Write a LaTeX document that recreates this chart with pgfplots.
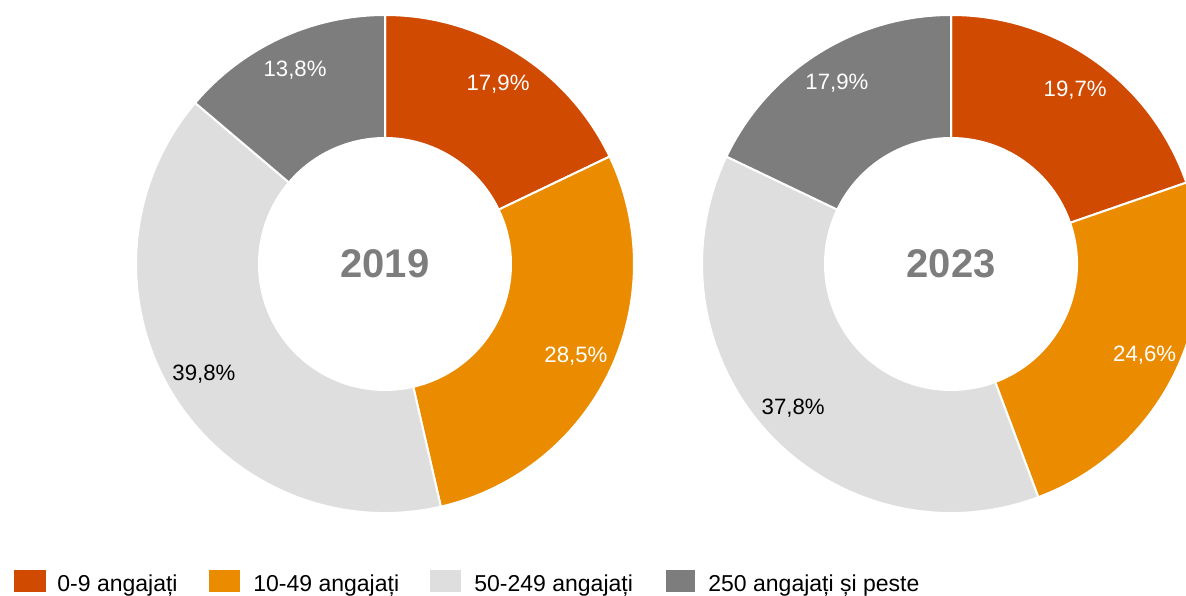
\documentclass[border=0pt]{standalone}
\usepackage{pgfplots}
\pgfplotsset{compat=1.18}
\usepackage{pgfplotstable}
\usepackage{fontspec}
\setmainfont{Liberation Sans}
\definecolor{cA}{HTML}{D04A02}
\definecolor{cB}{HTML}{EB8C00}
\definecolor{cC}{HTML}{DEDEDE}
\definecolor{cD}{HTML}{7D7D7D}
\pgfplotstableread{
cat y2019 y2023
A 17.9 19.7
B 28.5 24.6
C 39.8 37.8
D 13.8 17.9
}\donutdata
\newcommand\getv[3]{\pgfplotstablegetelem{#1}{#2}\of\donutdata\edef#3{\pgfplotsretval}}
% cx, cy, start, end, colour
\newcommand\donutwedge[5]{%
  \fill[#5, draw=white, line width=1pt]
    (axis cs:{#1+249*cos(#3)},{#2+249*sin(#3)})
    arc[start angle=#3, end angle=#4, radius=124.5pt]
    -- (axis cs:{#1+126*cos(#4)},{#2+126*sin(#4)})
    arc[start angle=#4, end angle=#3, radius=63pt] -- cycle;}
\newcommand\pct[1]{\pgfmathprintnumber[use comma,fixed,fixed zerofill,precision=1,assume math mode=true]{#1}\%}
\begin{document}
\begin{tikzpicture}
\getv{0}{y2019}\La \getv{1}{y2019}\Lb \getv{2}{y2019}\Lc \getv{3}{y2019}\Ld
\getv{0}{y2023}\Ra \getv{1}{y2023}\Rb \getv{2}{y2023}\Rc \getv{3}{y2023}\Rd
\pgfmathsetmacro\LeA{90-3.6*\La}\pgfmathsetmacro\LeB{\LeA-3.6*\Lb}\pgfmathsetmacro\LeC{\LeB-3.6*\Lc}\pgfmathsetmacro\LeD{\LeC-3.6*\Ld}
\pgfmathsetmacro\ReA{90-3.6*\Ra}\pgfmathsetmacro\ReB{\ReA-3.6*\Rb}\pgfmathsetmacro\ReC{\ReB-3.6*\Rc}\pgfmathsetmacro\ReD{\ReC-3.6*\Rd}
\pgfmathsetmacro\LmA{(90+\LeA)/2}\pgfmathsetmacro\LmB{(\LeA+\LeB)/2}\pgfmathsetmacro\LmC{(\LeB+\LeC)/2}\pgfmathsetmacro\LmD{(\LeC+\LeD)/2}
\pgfmathsetmacro\RmA{(90+\ReA)/2}\pgfmathsetmacro\RmB{(\ReA+\ReB)/2}\pgfmathsetmacro\RmC{(\ReB+\ReC)/2}\pgfmathsetmacro\RmD{(\ReC+\ReD)/2}
\begin{axis}[width=593pt, height=297.5pt, scale only axis, xmin=0, xmax=1186, ymin=0, ymax=595, hide axis, clip=true]
% left donut (2019)
\donutwedge{385}{331}{90}{\LeA}{cA}
\donutwedge{385}{331}{\LeA}{\LeB}{cB}
\donutwedge{385}{331}{\LeB}{\LeC}{cC}
\donutwedge{385}{331}{\LeC}{\LeD}{cD}
% right donut (2023)
\donutwedge{951}{331}{90}{\ReA}{cA}
\donutwedge{951}{331}{\ReA}{\ReB}{cB}
\donutwedge{951}{331}{\ReB}{\ReC}{cC}
\donutwedge{951}{331}{\ReC}{\ReD}{cD}
% labels
\begin{scope}[every node/.style={font=\fontsize{11.1}{13}\selectfont, inner sep=0pt}]
\node[white] at (axis cs:{385+212*cos(\LmA)},{331+212*sin(\LmA)}) {\pct{\La}};
\node[white] at (axis cs:{385+212*cos(\LmB)},{331+212*sin(\LmB)}) {\pct{\Lb}};
\node[black] at (axis cs:{385+212*cos(\LmC)},{331+212*sin(\LmC)}) {\pct{\Lc}};
\node[white] at (axis cs:{385+214*cos(\LmD)},{331+214*sin(\LmD)}) {\pct{\Ld}};
\node[white] at (axis cs:{951+214*cos(\RmA)},{331+214*sin(\RmA)}) {\pct{\Ra}};
\node[white] at (axis cs:{951+214*cos(\RmB)},{331+214*sin(\RmB)}) {\pct{\Rb}};
\node[black] at (axis cs:{951+214*cos(\RmC)},{331+214*sin(\RmC)}) {\pct{\Rc}};
\node[white] at (axis cs:{951+214*cos(\RmD)},{331+214*sin(\RmD)}) {\pct{\Rd}};
\end{scope}
\node[cD, font=\fontsize{20}{24}\selectfont\bfseries] at (axis cs:385,331) {2019};
\node[cD, font=\fontsize{20}{24}\selectfont\bfseries] at (axis cs:951,331) {2023};
% legend
\begin{scope}[every node/.style={font=\fontsize{11.5}{13}\selectfont, anchor=base west, inner sep=0pt}]
\fill[cA] (axis cs:14,3) rectangle (axis cs:46,25);
\node at (axis cs:57,4) {0-9 angajați};
\fill[cB] (axis cs:209,3) rectangle (axis cs:240,25);
\node at (axis cs:253,4) {10-49 angajați};
\fill[cC] (axis cs:430,3) rectangle (axis cs:461,25);
\node at (axis cs:474,4) {50-249 angajați};
\fill[cD] (axis cs:666,3) rectangle (axis cs:695,25);
\node at (axis cs:708,4) {250 angajați și peste};
\end{scope}
\end{axis}
\pgfresetboundingbox
\path (0,0) rectangle (593pt,297.5pt);
\end{tikzpicture}
\end{document}
